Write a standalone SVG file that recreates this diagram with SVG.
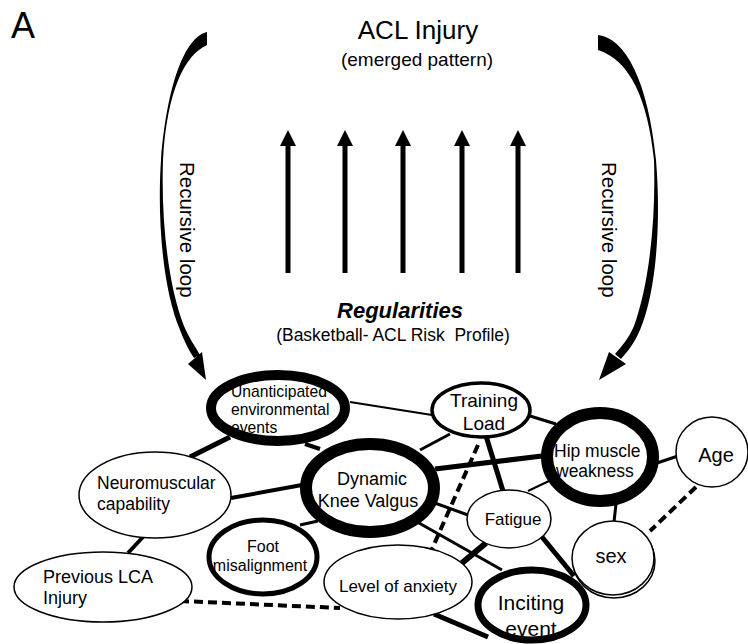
<svg xmlns="http://www.w3.org/2000/svg" width="748" height="644" viewBox="0 0 748 644">
<style>
text{font-family:"Liberation Sans",Arial,sans-serif;fill:#000}
.n{fill:#fff;stroke:#000}
.e{stroke:#000;fill:none}
.d{stroke-dasharray:9 5}
.up{fill:#000}
</style>
<rect width="748" height="644" fill="#fff"/>
<text x="11" y="38" font-size="36">A</text>
<text x="418" y="39" font-size="26" text-anchor="middle">ACL Injury</text>
<text x="417" y="66" font-size="19" text-anchor="middle">(emerged pattern)</text>

<g id="emergence-arrows">
<g class="up">
<rect x="285.5" y="143" width="5" height="130"/><polygon points="288,130 280,146 296,146"/>
<rect x="342.5" y="143" width="5" height="130"/><polygon points="345,130 337,146 353,146"/>
<rect x="400.5" y="143" width="5" height="130"/><polygon points="403,130 395,146 411,146"/>
<rect x="459.5" y="143" width="5" height="130"/><polygon points="462,130 454,146 470,146"/>
<rect x="515.5" y="143" width="5" height="130"/><polygon points="518,130 510,146 526,146"/>
</g>
</g>

<text x="400" y="318" font-size="22" font-weight="bold" font-style="italic" text-anchor="middle">Regularities</text>
<text x="393" y="341" font-size="17.5" text-anchor="middle" xml:space="preserve">(Basketball- ACL Risk  Profile)</text>

<g id="loop-left">
<path d="M207,32 C188,36 168,75 161,160 C157,220 163,290 180,330 C185,343 190,352 194,358 L200,355 C195,346 189,338 184,326 C168,285 161,220 163,160 C167,90 185,55 207,45 Z" fill="#000"/>
<polygon points="206,380 188,364 202,352" fill="#000"/>
<text transform="translate(180,162) rotate(90)" font-size="20.5">Recursive loop</text>
</g>
<g id="loop-right">
<path d="M598,35 C625,38 648,80 656,160 C661,220 657,290 640,330 C634,344 627,352 621,359 L615,354 C622,346 629,338 634,326 C649,285 656,220 654,160 C648,100 630,60 598,50 Z" fill="#000"/>
<polygon points="599,380 609,352 626,364" fill="#000"/>
<text transform="translate(602,162) rotate(90)" font-size="20.5">Recursive loop</text>
</g>

<g id="connectors">
<line class="e" x1="190" y1="457" x2="230" y2="437" stroke-width="5"/>
<line class="e" x1="350" y1="402" x2="432" y2="415" stroke-width="2"/>
<line class="e" x1="305" y1="444" x2="320" y2="449" stroke-width="4"/>
<line class="e" x1="231" y1="498" x2="302" y2="485" stroke-width="4"/>
<line class="e" x1="143" y1="537" x2="128" y2="553" stroke-width="4"/>
<line class="e" x1="300" y1="525" x2="318" y2="521" stroke-width="3"/>
<line class="e d" x1="180" y1="601" x2="340" y2="608" stroke-width="4"/>
<line class="e" x1="420" y1="450" x2="450" y2="434" stroke-width="3"/>
<line class="e" x1="435" y1="469" x2="542" y2="456" stroke-width="5"/>
<line class="e" x1="432" y1="502" x2="468" y2="515" stroke-width="3"/>
<line class="e" x1="419" y1="523" x2="502" y2="570" stroke-width="3"/>
<line class="e" x1="530" y1="416" x2="556" y2="424" stroke-width="3"/>
<line class="e" x1="486" y1="436" x2="503" y2="491" stroke-width="5"/>
<line class="e d" x1="478" y1="445" x2="432" y2="549" stroke-width="4"/>
<line class="e" x1="528" y1="491" x2="549" y2="481" stroke-width="2"/>
<line class="e" x1="657" y1="463" x2="678" y2="456" stroke-width="3"/>
<line class="e" x1="616" y1="504" x2="614" y2="522" stroke-width="3"/>
<line class="e d" x1="696" y1="487" x2="650" y2="531" stroke-width="4"/>
<line class="e" x1="486" y1="543" x2="462" y2="563" stroke-width="6"/>
<line class="e" x1="542" y1="537" x2="574" y2="576" stroke-width="5"/>
<line class="e" x1="434" y1="614" x2="488" y2="637" stroke-width="5"/>
</g>

<g id="node-unanticipated">
<ellipse class="n" cx="278" cy="408" rx="67" ry="33" stroke-width="10"/>
<text font-size="15.7"><tspan x="231" y="397">Unanticipated</tspan><tspan x="231" y="415">environmental</tspan><tspan x="231" y="433">events</tspan></text>
</g>
<g id="node-neuromuscular">
<ellipse class="n" cx="155" cy="495" rx="76" ry="43" stroke-width="1.5"/>
<text font-size="17.5"><tspan x="97" y="489">Neuromuscular</tspan><tspan x="97" y="510">capability</tspan></text>
</g>
<g id="node-previous">
<ellipse class="n" cx="103" cy="587" rx="89" ry="35" stroke-width="1.5"/>
<text font-size="18"><tspan x="43" y="583">Previous LCA</tspan><tspan x="43" y="604">Injury</tspan></text>
</g>
<g id="node-foot">
<ellipse class="n" cx="263" cy="557" rx="54" ry="37" stroke-width="5"/>
<text font-size="16" text-anchor="middle"><tspan x="263" y="552">Foot</tspan><tspan x="260" y="571">misalignment</tspan></text>
</g>
<g id="node-dynamic">
<ellipse class="n" cx="370" cy="488" rx="64" ry="44" stroke-width="12"/>
<text font-size="18" text-anchor="middle"><tspan x="372" y="485">Dynamic</tspan><tspan x="368" y="507">Knee Valgus</tspan></text>
</g>
<g id="node-training">
<ellipse class="n" cx="481" cy="410" rx="49" ry="27" stroke-width="3.5"/>
<text font-size="19" text-anchor="middle"><tspan x="484" y="407">Training</tspan><tspan x="484" y="430">Load</tspan></text>
</g>
<g id="node-hip">
<ellipse class="n" cx="600" cy="457" rx="53" ry="44" stroke-width="12"/>
<text font-size="17.5"><tspan x="554" y="457">Hip muscle</tspan><tspan x="556" y="477">weakness</tspan></text>
</g>
<g id="node-age">
<ellipse class="n" cx="712" cy="452" rx="36" ry="35" stroke-width="1.5"/>
<text x="716" y="462" font-size="20" text-anchor="middle">Age</text>
</g>
<g id="node-fatigue">
<ellipse class="n" cx="509" cy="519" rx="42" ry="29" stroke-width="1.5"/>
<text x="513" y="525" font-size="17" text-anchor="middle">Fatigue</text>
</g>
<g id="node-sex">
<ellipse class="n" cx="614" cy="561" rx="41" ry="37" stroke-width="1.5"/>
<ellipse class="n" cx="613" cy="558" rx="41" ry="37" stroke-width="1.5"/>
<text x="611" y="563" font-size="20" text-anchor="middle">sex</text>
</g>
<g id="node-anxiety">
<ellipse class="n" cx="398" cy="582" rx="74" ry="37" stroke-width="1.5"/>
<text x="398" y="592" font-size="17" text-anchor="middle">Level of anxiety</text>
</g>
<g id="node-inciting">
<ellipse class="n" cx="532" cy="605" rx="54" ry="35" stroke-width="7"/>
<text font-size="21" text-anchor="middle"><tspan x="531" y="610">Inciting</tspan><tspan x="531" y="636">event</tspan></text>
</g>
</svg>
